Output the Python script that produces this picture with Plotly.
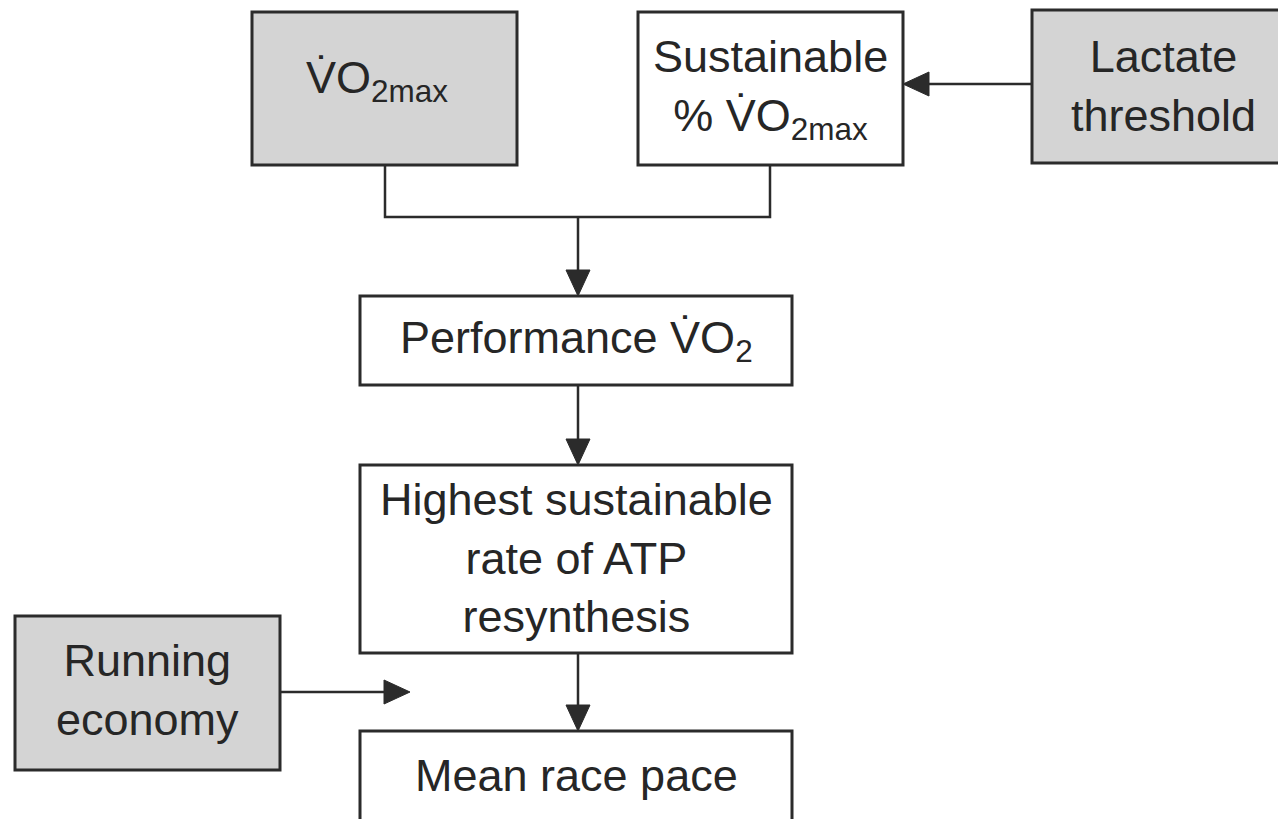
import plotly.graph_objects as go

W, H = 1286, 819
PAD = 8  # default page body margin, compensated so data pixels match page pixels
VDOT = "V\u0307"

# Nodes
node_labels = [
    VDOT + "O<sub>2max</sub>",
    "Sustainable<br>% " + VDOT + "O<sub>2max</sub>",
    "Lactate<br>threshold",
    "Performance " + VDOT + "O<sub>2</sub>",
    "Highest sustainable<br>rate of ATP<br>resynthesis",
    "Running<br>economy",
    "Mean race pace",
]
node_x0 = [252, 638, 1032, 360, 360, 15, 360]
node_x1 = [517, 903, 1290, 792, 792, 280, 792]
node_y0 = [12, 12, 10, 296, 465, 616, 731]
node_y1 = [165, 165, 163, 385, 653, 770, 830]
node_shaded = [True, False, True, False, False, True, False]
node_text_x = [377, 770, 1163, 576, 576, 147, 576]
node_text_y = [80, 89, 86, 340, 558, 690, 775]

# Connectors (polyline without head)
connectors = [
    ([385, 385, 770, 770], [165, 217, 217, 165]),
]
# Arrows: (x start, y start, x tip, y tip)
arrows = [
    (578, 217, 578, 296),
    (578, 385, 578, 465),
    (578, 653, 578, 731),
    (1032, 84, 903, 84),
    (280, 692, 410, 692),
]

LINE = "#2b2b2b"
FILL = "#d4d4d4"
FONT = "Liberation Sans, Arial, sans-serif"

fig = go.Figure()
shapes = []
annotations = []
for lab, x0, x1, y0, y1, sh, tx, ty in zip(node_labels, node_x0, node_x1, node_y0, node_y1,
                                          node_shaded, node_text_x, node_text_y):
    shapes.append(dict(type="rect", xref="x", yref="y", x0=x0, x1=x1, y0=y0, y1=y1,
                       line=dict(color=LINE, width=3), fillcolor=FILL if sh else "white",
                       layer="below"))
    annotations.append(dict(x=tx, y=ty, xref="x", yref="y", text=lab, showarrow=False,
                            font=dict(family=FONT, size=45, color="#262626"),
                            align="center", xanchor="center", yanchor="middle"))

for xs, ys in connectors:
    path = "M " + " L ".join(f"{x},{y}" for x, y in zip(xs, ys))
    shapes.append(dict(type="path", xref="x", yref="y", path=path,
                       line=dict(color=LINE, width=2.5)))

HL, HW = 26, 12
for xs, ys, xt, yt in arrows:
    dx, dy = xt - xs, yt - ys
    L = (dx * dx + dy * dy) ** 0.5
    ux, uy = dx / L, dy / L
    bx, by = xt - ux * HL, yt - uy * HL
    px, py = -uy, ux
    shapes.append(dict(type="line", xref="x", yref="y", x0=xs, y0=ys, x1=bx, y1=by,
                       line=dict(color=LINE, width=2.5)))
    path = (f"M {xt},{yt} L {bx + px * HW},{by + py * HW} "
            f"L {bx - px * HW},{by - py * HW} Z")
    shapes.append(dict(type="path", xref="x", yref="y", path=path,
                       fillcolor=LINE, line=dict(color=LINE, width=1)))

fig.update_layout(
    width=W - PAD, height=H - PAD,
    margin=dict(l=0, r=0, t=0, b=0),
    paper_bgcolor="white", plot_bgcolor="white",
    xaxis=dict(range=[PAD, W], visible=False, fixedrange=True),
    yaxis=dict(range=[H, PAD], visible=False, fixedrange=True),
    shapes=shapes, annotations=annotations,
    showlegend=False,
)
fig.write_html("out.html", config={"displayModeBar": False})
